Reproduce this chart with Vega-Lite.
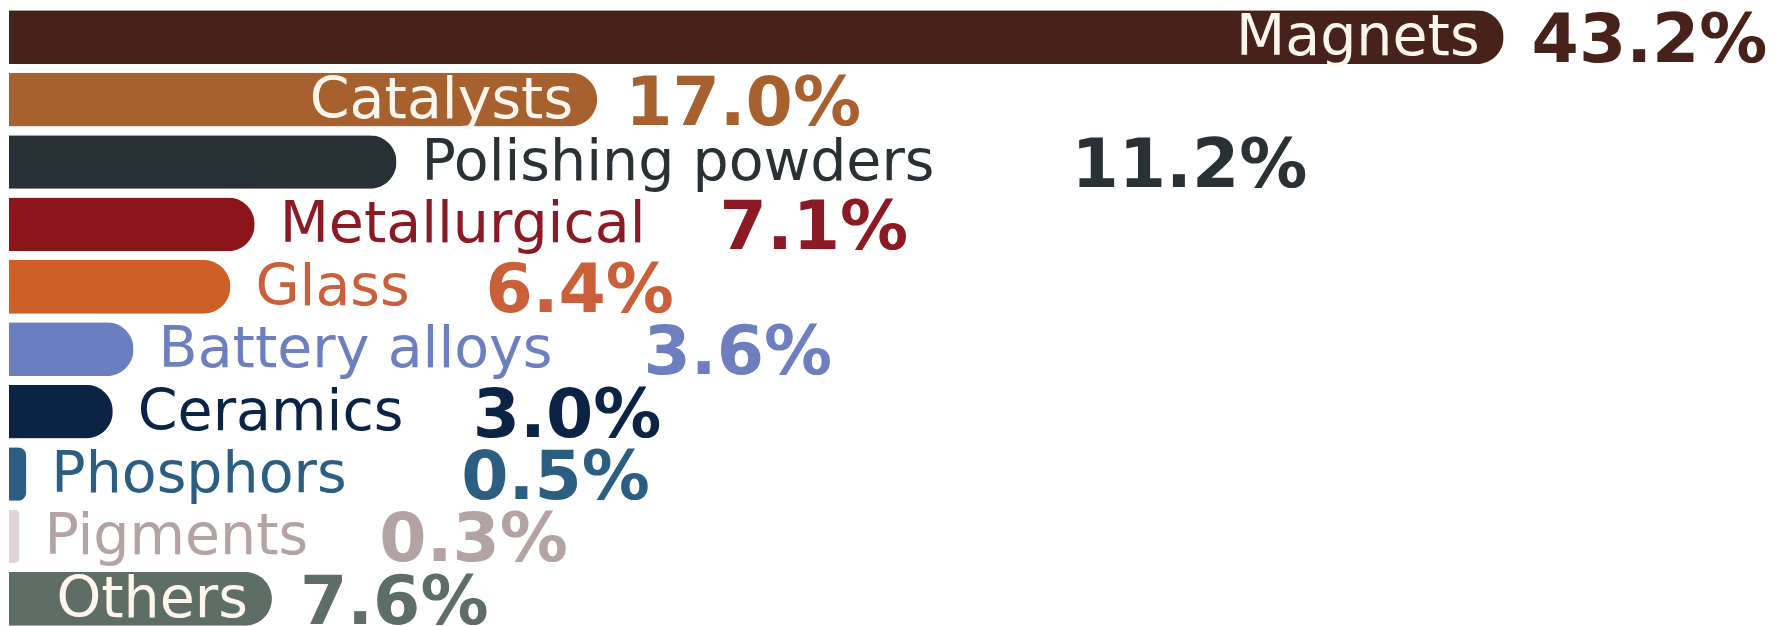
{
  "$schema": "https://vega.github.io/schema/vega-lite/v6.json",
  "width": 1780,
  "height": 624,
  "autosize": "none",
  "padding": {"left": 9, "top": 6, "right": 0, "bottom": 0},
  "background": "white",
  "config": {"view": {"stroke": null}, "font": "DejaVu Sans"},
  "data": {
    "values": [
      {"category": "Magnets", "share": 43.2},
      {"category": "Catalysts", "share": 17.0},
      {"category": "Polishing powders", "share": 11.2},
      {"category": "Metallurgical", "share": 7.1},
      {"category": "Glass", "share": 6.4},
      {"category": "Battery alloys", "share": 3.6},
      {"category": "Ceramics", "share": 3.0},
      {"category": "Phosphors", "share": 0.5},
      {"category": "Pigments", "share": 0.3},
      {"category": "Others", "share": 7.6}
    ]
  },
  "transform": [
    {"calculate": "indexof(['Magnets','Catalysts','Others'], datum.category) >= 0", "as": "inside"},
    {"calculate": "format(datum.share, '.1f') + '%'", "as": "pct"},
    {"calculate": "length(datum.category) - length(replace(datum.category, /[iltrfj ]/g, ''))", "as": "narrow"},
    {"calculate": "datum.share + (datum.inside ? 28 / 34.6 : (60 + 45 * (length(datum.category) - datum.narrow) + 15 * datum.narrow) / 34.6)", "as": "vx"}
  ],
  "encoding": {
    "y": {
      "field": "category",
      "type": "nominal",
      "sort": null,
      "axis": null,
      "scale": {"paddingInner": 0.14, "paddingOuter": 0.07}
    }
  },
  "layer": [
    {
      "mark": {"type": "bar", "cornerRadiusEnd": 27},
      "encoding": {
        "x": {"field": "share", "type": "quantitative", "scale": {"domain": [0, 51.45], "nice": false}, "axis": null},
        "color": {
          "field": "category",
          "type": "nominal",
          "legend": null,
          "scale": {
            "domain": ["Magnets", "Catalysts", "Polishing powders", "Metallurgical", "Glass", "Battery alloys", "Ceramics", "Phosphors", "Pigments", "Others"],
            "range": ["#47221a", "#a7612f", "#263035", "#8c1519", "#cd5f27", "#6b7fc0", "#0b2345", "#2b5e80", "#dcd6d6", "#5e6d66"]
          }
        }
      }
    },
    {
      "transform": [{"filter": "datum.inside"}],
      "mark": {"type": "text", "align": "right", "baseline": "alphabetic", "dx": -24, "dy": 18, "fontSize": 57, "color": "#fdf6ec"},
      "encoding": {
        "x": {"field": "share", "type": "quantitative", "scale": {"domain": [0, 51.45], "nice": false}, "axis": null},
        "text": {"field": "category"}
      }
    },
    {
      "transform": [{"filter": "!datum.inside"}],
      "mark": {"type": "text", "align": "left", "baseline": "alphabetic", "dx": 25, "dy": 18, "fontSize": 57},
      "encoding": {
        "x": {"field": "share", "type": "quantitative", "scale": {"domain": [0, 51.45], "nice": false}, "axis": null},
        "text": {"field": "category"},
        "color": {
          "field": "category",
          "type": "nominal",
          "legend": null,
          "scale": {
            "domain": ["Magnets", "Catalysts", "Polishing powders", "Metallurgical", "Glass", "Battery alloys", "Ceramics", "Phosphors", "Pigments", "Others"],
            "range": ["#47221a", "#a7612f", "#2a3135", "#8c1a24", "#c9603a", "#6e7fbf", "#0b2345", "#2b5e80", "#b3a3a3", "#5e6d66"]
          }
        }
      }
    },
    {
      "mark": {"type": "text", "align": "left", "baseline": "alphabetic", "dy": 25, "fontSize": 68, "fontWeight": "bold"},
      "encoding": {
        "x": {"field": "vx", "type": "quantitative", "scale": {"domain": [0, 51.45], "nice": false}, "axis": null},
        "text": {"field": "pct"},
        "color": {
          "field": "category",
          "type": "nominal",
          "legend": null,
          "scale": {
            "domain": ["Magnets", "Catalysts", "Polishing powders", "Metallurgical", "Glass", "Battery alloys", "Ceramics", "Phosphors", "Pigments", "Others"],
            "range": ["#47221a", "#a7612f", "#2a3135", "#8c1a24", "#c9603a", "#6e7fbf", "#0b2345", "#2b5e80", "#b3a3a3", "#5e6d66"]
          }
        }
      }
    }
  ],
  "resolve": {"scale": {"color": "independent"}}
}
